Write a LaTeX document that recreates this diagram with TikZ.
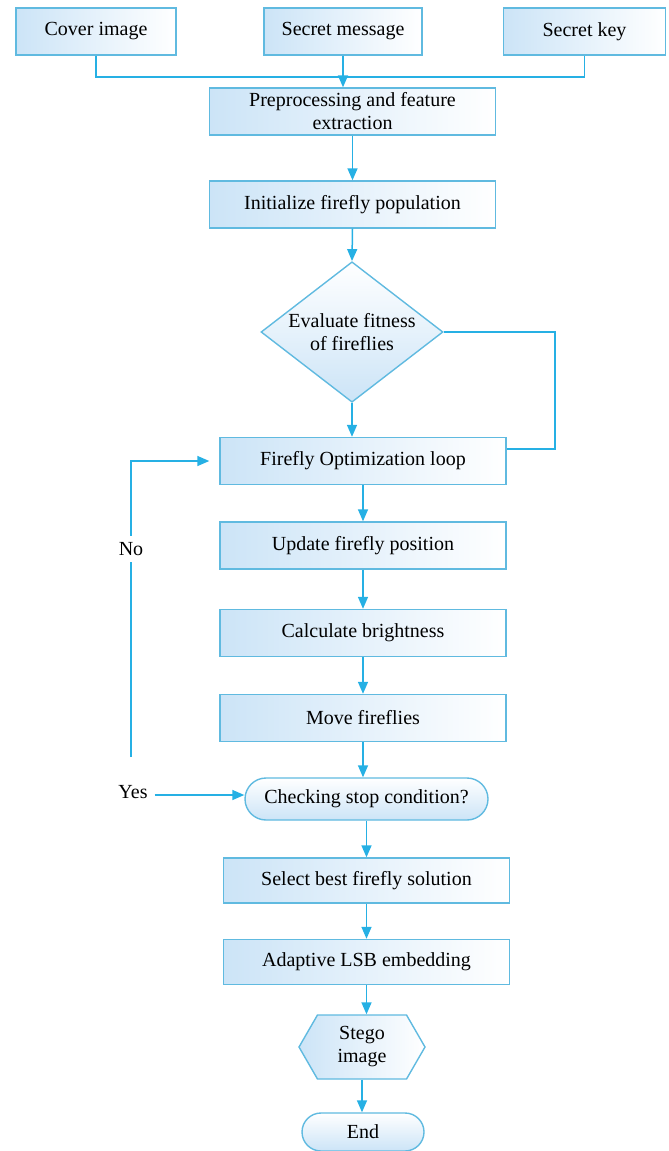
\documentclass[tikz,border=0pt]{standalone}
\usepackage{fontspec}
\setmainfont{Liberation Serif}
\usetikzlibrary{shapes.geometric,shapes.misc,shapes.symbols,arrows.meta}

\definecolor{flowline}{RGB}{38,176,228}
\definecolor{boxedge}{RGB}{96,186,224}
\definecolor{boxfill}{RGB}{204,228,247}

\tikzset{
  procbox/.style={draw=boxedge,line width=0.7pt,left color=boxfill,right color=white,
    minimum width=143pt,minimum height=23.5pt,align=center,inner sep=2pt,font=\fontsize{10}{11.5}\selectfont},
  inbox/.style={procbox,minimum width=80pt},
  decide/.style={procbox,diamond,minimum width=91pt,minimum height=66pt,inner sep=-3pt,
    top color=white,bottom color=boxfill},
  termbox/.style={procbox,rounded rectangle,top color=white,bottom color=boxfill},
  hexbox/.style={procbox,signal,signal to=west and east,signal pointer angle=120,
    minimum width=63pt,minimum height=32pt},
  line/.style={draw=flowline,line width=0.75pt},
  arrow/.style={line,-{Triangle[length=6pt,width=5pt]}}
}

\begin{document}
\begin{tikzpicture}[x=0.5pt,y=-0.5pt]
  % bounding box
  \useasboundingbox (0,0) rectangle (669,1151);
  % Inputs
  \node[inbox] (cover) at (96,31.5) {Cover image};
  \node[inbox,minimum width=79pt] (message) at (343,31.5) {Secret message};
  \node[inbox,minimum width=81pt] (key) at (584.5,31.5) {Secret key};
  % Main flow
  \node[procbox] (prep) at (352.5,111.5) {Preprocessing and feature\\extraction};
  \node[procbox] (init) at (352.5,204.5) {Initialize firefly population};
  \node[decide] (eval) at (352,332) {Evaluate fitness\\of fireflies};
  \node[procbox] (loop) at (363,461) {Firefly Optimization loop};
  \node[procbox] (update) at (363,545.5) {Update firefly position};
  \node[procbox] (bright) at (363,633) {Calculate brightness};
  \node[procbox] (move) at (363,718) {Move fireflies};
  \node[termbox,minimum width=125.5pt,minimum height=21pt] (check) at (366.5,799) {Checking stop condition?};
  \node[procbox,minimum height=22.5pt] (select) at (366.5,880.5) {Select best firefly solution};
  \node[procbox,minimum height=22.5pt] (adapt) at (366.5,962) {Adaptive LSB embedding};
  \node[hexbox] (stego) at (362,1047) {Stego\\image};
  \node[termbox,minimum width=65pt,minimum height=19pt] (end) at (363,1132) {End};
  % Labels
  \node[font=\fontsize{10}{12}\selectfont] (yes) at (133,792) {Yes};
  \node[font=\fontsize{10}{12}\selectfont,fill=white,inner sep=3pt] (no) at (131,549) {No};
  \coordinate (merge) at (343,77);
  \coordinate (back) at (131,757);
  \coordinate (side) at (555,449);
  % Connectors
  \draw[line] (cover.south) |- (merge) -| (key.south);
  \draw[arrow] (message.south) -- (message.south |- prep.north);
  \draw[arrow] (prep.south) -- (init.north);
  \draw[arrow] (init.south) -- (eval.north);
  \draw[arrow] (eval.south) -- (eval.south |- loop.north);
  \draw[line] (eval.east) -| (side) -- (side -| loop.east);
  \draw[arrow] (loop.south) -- (update.north);
  \draw[arrow] (update.south) -- (bright.north);
  \draw[arrow] (bright.south) -- (move.north);
  \draw[arrow] (move.south) -- (move.south |- check.north);
  \draw[arrow] (check.south) -- (select.north);
  \draw[arrow] (select.south) -- (adapt.north);
  \draw[arrow] (adapt.south) -- (adapt.south |- stego.north);
  \draw[arrow] (stego.south) -- (stego.south |- end.north);
  \draw[arrow] ([yshift=-1.5pt]yes.east) -- ([yshift=-1.5pt]yes.east -| check.west);
  \draw[line] (back) -- (no);
  \draw[arrow] (no) |- ([xshift=-5pt]loop.west);
\end{tikzpicture}
\end{document}
